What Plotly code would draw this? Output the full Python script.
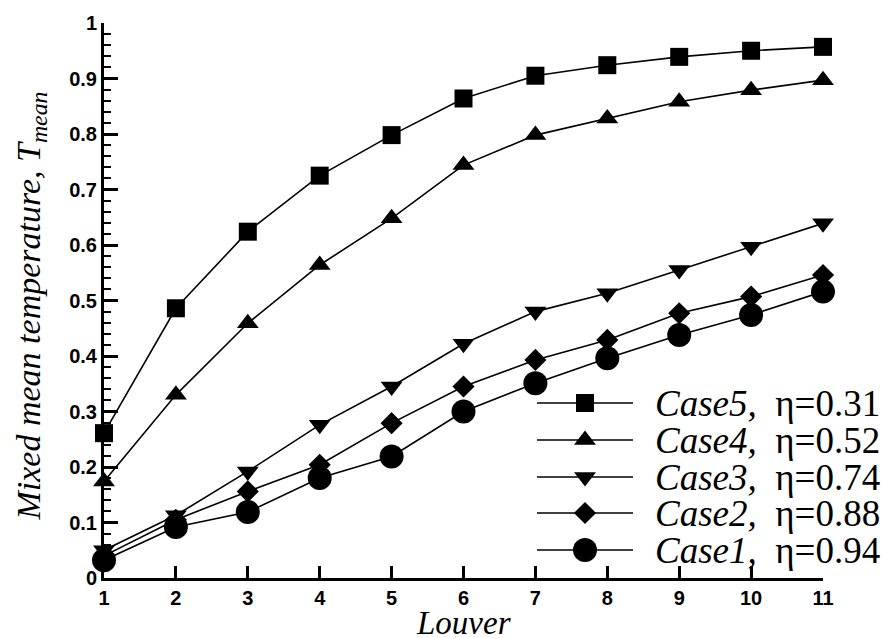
import plotly.graph_objects as go

# ---------------- data ----------------
louver = [1, 2, 3, 4, 5, 6, 7, 8, 9, 10, 11]
case5 = [0.261, 0.486, 0.624, 0.725, 0.798, 0.864, 0.905, 0.924, 0.939, 0.950, 0.957]
case4 = [0.174, 0.330, 0.459, 0.564, 0.648, 0.744, 0.798, 0.828, 0.858, 0.879, 0.897]
case3 = [0.050, 0.113, 0.192, 0.276, 0.345, 0.422, 0.480, 0.513, 0.555, 0.597, 0.639]
case2 = [0.040, 0.105, 0.156, 0.204, 0.279, 0.345, 0.393, 0.429, 0.477, 0.507, 0.546]
case1 = [0.032, 0.092, 0.119, 0.180, 0.219, 0.300, 0.351, 0.396, 0.438, 0.474, 0.516]

case_names = ["Case5", "Case4", "Case3", "Case2", "Case1"]
eta_labels = ["η=0.31", "η=0.52", "η=0.74", "η=0.88", "η=0.94"]
series = [case5, case4, case3, case2, case1]

# ---------------- styles ----------------
symbols = ["square", "triangle-up", "triangle-down", "diamond", "circle"]
sizes = [18, 19, 19, 17, 24]

W, H = 885, 638
ML, MR, MT, MB = 104, 62, 23, 60
PW, PH = W - ML - MR, H - MT - MB

def px2paper_x(px):
    return (px - ML) / PW

def px2paper_y(py):
    return (H - MB - py) / PH

fig = go.Figure()

for name, ys, sym, sz in zip(case_names, series, symbols, sizes):
    fig.add_trace(go.Scatter(
        x=louver, y=ys, mode="lines+markers", name=name,
        line=dict(color="black", width=1.6),
        marker=dict(symbol=sym, size=sz, color="black"),
        cliponaxis=False, showlegend=False,
    ))

# ---------------- custom legend (on an invisible overlay axis) ----------------
leg_rows_px = [403, 440, 477, 513, 550]
leg_x0, leg_x1, leg_txt = 537, 633, 654
for i, (name, eta, sym, sz) in enumerate(zip(case_names, eta_labels, symbols, sizes)):
    yy = px2paper_y(leg_rows_px[i])
    fig.add_trace(go.Scatter(
        x=[px2paper_x(leg_x0), px2paper_x(leg_x1)], y=[yy, yy],
        mode="lines", line=dict(color="black", width=1.6),
        xaxis="x2", yaxis="y2", showlegend=False, cliponaxis=False,
    ))
    fig.add_trace(go.Scatter(
        x=[px2paper_x((leg_x0 + leg_x1) / 2)], y=[yy],
        mode="markers", marker=dict(symbol=sym, size=sz, color="black"),
        xaxis="x2", yaxis="y2", showlegend=False, cliponaxis=False,
    ))
    fig.add_annotation(
        x=px2paper_x(leg_txt), y=yy, xref="paper", yref="paper",
        text=f"<i>{name},</i>  {eta}", showarrow=False,
        xanchor="left", yanchor="middle", borderpad=0,
        font=dict(family="Liberation Serif", size=37, color="black"),
    )

# ---------------- axis titles ----------------
fig.add_annotation(
    x=0.5, y=0, xref="paper", yref="paper", yshift=-45,
    text="<i>Louver</i>", showarrow=False, xanchor="center", yanchor="middle",
    borderpad=0,
    font=dict(family="Liberation Serif", size=33, color="black"),
)
fig.add_annotation(
    x=0, y=0.5, xref="paper", yref="paper", xshift=-74, yshift=-6,
    text="<i>Mixed mean temperature, T<sub>mean</sub></i>", showarrow=False,
    textangle=-90, xanchor="center", yanchor="middle",
    font=dict(family="Liberation Serif", size=34, color="black"),
)

tickfont = dict(family="Liberation Sans", size=20, color="black", weight="bold")
fig.update_layout(
    width=W, height=H,
    margin=dict(l=ML, r=MR, t=MT, b=MB),
    paper_bgcolor="white", plot_bgcolor="white",
    showlegend=False,
    xaxis=dict(
        range=[1, 11], dtick=1, tick0=1, showgrid=False, zeroline=False,
        showline=True, linecolor="black", linewidth=3,
        ticks="inside", ticklen=12, tickwidth=3, tickcolor="black",
        tickfont=tickfont,
    ),
    yaxis=dict(
        range=[0, 1], dtick=0.1, tick0=0, showgrid=False, zeroline=False,
        showline=True, linecolor="black", linewidth=3,
        ticks="inside", ticklen=14, tickwidth=3, tickcolor="black",
        tickfont=tickfont,
        minor=dict(dtick=0.02, ticks="inside", ticklen=7, tickwidth=2,
                   tickcolor="black", showgrid=False),
    ),
    xaxis2=dict(range=[0, 1], domain=[0, 1], overlaying="x", visible=False,
                anchor="y2"),
    yaxis2=dict(range=[0, 1], domain=[0, 1], overlaying="y", visible=False,
                anchor="x2"),
)

fig.write_html("out.html")
